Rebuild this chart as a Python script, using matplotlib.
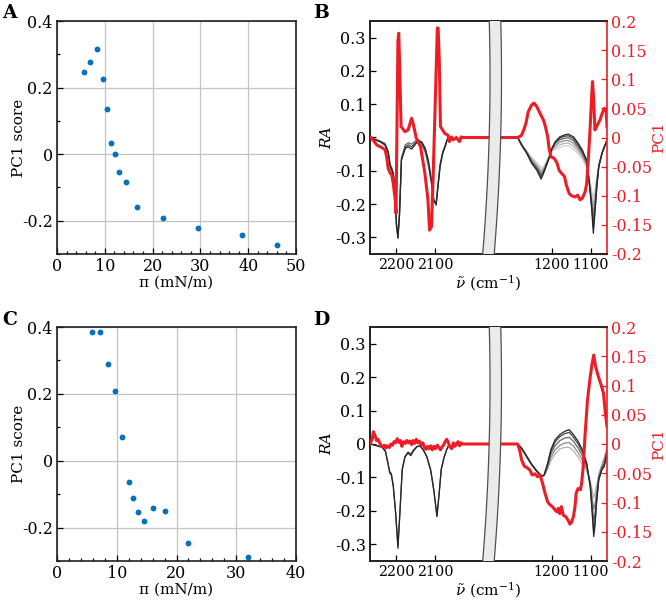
import numpy as np
import matplotlib
matplotlib.use('Agg')
import matplotlib.pyplot as plt
from matplotlib.patches import Polygon

plt.rcParams['font.family'] = 'DejaVu Serif'
plt.rcParams['mathtext.fontset'] = 'dejavuserif'
plt.rcParams['axes.unicode_minus'] = False
plt.rcParams['font.size'] = 11.5

#%% data - PC1 scores vs surface pressure
piA = [5.65, 6.97, 8.43, 9.55, 10.4, 11.2, 12.1, 12.97, 14.4, 16.7, 22.2, 29.4, 38.6, 46.1]
scoreA = [0.248, 0.278, 0.315, 0.226, 0.135, 0.033, 0.0, -0.054, -0.083, -0.159, -0.192, -0.223, -0.243, -0.272]

piC = [5.91, 7.2, 8.59, 9.71, 10.8, 12.1, 12.7, 13.5, 14.6, 16.0, 18.1, 22.0, 31.9]
scoreC = [0.384, 0.384, 0.29, 0.21, 0.072, -0.064, -0.112, -0.152, -0.179, -0.140, -0.151, -0.245, -0.288]

#%% data - spectra panel B
wB_left = [2267, 2241, 2228, 2220, 2215, 2211, 2207, 2202, 2199, 2195, 2191, 2186, 2176, 2168, 2160,
           2152, 2143, 2134, 2125, 2117, 2109, 2103, 2097, 2094, 2087, 2080, 2074, 2069, 2066]
raB_left = [
    [0, -0.010, -0.018, -0.040, -0.080, -0.090, -0.105, -0.160, -0.255, -0.295, -0.225, -0.060, -0.022, -0.016, -0.020,
     -0.012, -0.006, -0.020, -0.045, -0.085, -0.140, -0.190, -0.195, -0.160, -0.080, -0.042, -0.024, -0.006, 0],
    [0, -0.012, -0.021, -0.044, -0.085, -0.095, -0.110, -0.165, -0.260, -0.300, -0.230, -0.065, -0.028, -0.022, -0.028,
     -0.018, -0.008, -0.016, -0.038, -0.075, -0.135, -0.190, -0.200, -0.165, -0.085, -0.045, -0.026, -0.007, 0],
    [0, -0.013, -0.023, -0.047, -0.088, -0.098, -0.113, -0.167, -0.263, -0.303, -0.233, -0.068, -0.032, -0.028, -0.035,
     -0.023, -0.010, -0.013, -0.032, -0.068, -0.128, -0.188, -0.203, -0.168, -0.088, -0.047, -0.028, -0.008, 0],
]
wB_right = [1288, 1278, 1265, 1252, 1239, 1228, 1220, 1209, 1200, 1192, 1180, 1167, 1158, 1145, 1133, 1122,
            1111, 1105, 1098, 1094, 1090, 1085, 1080, 1072, 1066, 1059]
raB_right = [
    [0, -0.020, -0.040, -0.060, -0.075, -0.090, -0.085, -0.060, -0.040, -0.035, -0.030, -0.025, -0.025, -0.035, -0.050,
     -0.065, -0.090, -0.120, -0.160, -0.180, -0.160, -0.120, -0.080, -0.050, -0.030, -0.010],
    [0, -0.020, -0.042, -0.064, -0.080, -0.098, -0.090, -0.062, -0.038, -0.030, -0.022, -0.017, -0.017, -0.026, -0.042,
     -0.059, -0.085, -0.123, -0.175, -0.205, -0.175, -0.125, -0.082, -0.050, -0.030, -0.010],
    [0, -0.021, -0.043, -0.068, -0.086, -0.105, -0.094, -0.063, -0.036, -0.024, -0.014, -0.009, -0.009, -0.017, -0.034,
     -0.053, -0.080, -0.126, -0.190, -0.230, -0.190, -0.130, -0.084, -0.049, -0.029, -0.009],
    [0, -0.021, -0.044, -0.072, -0.090, -0.112, -0.097, -0.064, -0.034, -0.018, -0.007, -0.002, -0.001, -0.009, -0.028,
     -0.047, -0.076, -0.128, -0.200, -0.250, -0.205, -0.138, -0.086, -0.048, -0.029, -0.009],
    [0, -0.022, -0.046, -0.075, -0.094, -0.118, -0.100, -0.066, -0.033, -0.015, -0.002, 0.004, 0.005, -0.003, -0.022,
     -0.042, -0.072, -0.130, -0.210, -0.270, -0.220, -0.145, -0.088, -0.048, -0.028, -0.008],
    [0, -0.023, -0.047, -0.078, -0.098, -0.125, -0.103, -0.068, -0.032, -0.013, 0.002, 0.008, 0.010, 0.002, -0.017,
     -0.038, -0.068, -0.128, -0.218, -0.288, -0.228, -0.148, -0.088, -0.047, -0.028, -0.008],
]
pcB_left_w = [2267, 2265, 2249, 2237, 2228, 2224, 2220, 2215, 2211, 2207, 2202, 2200, 2195, 2193, 2191, 2187,
              2177, 2169, 2160, 2156, 2148, 2137, 2126, 2118, 2114, 2109, 2105, 2094, 2092, 2089, 2086,
              2075, 2067, 2063, 2058, 2053, 2045, 2037, 2033, 2029, 1951]
pcB_left = [0, 0.001, -0.013, -0.017, -0.021, -0.033, -0.053, -0.061, -0.064, -0.079, -0.107, -0.130, 0.167, 0.179,
            0.133, 0.019, 0.010, 0.013, 0.033, 0.024, -0.001, -0.016, -0.061, -0.107, -0.159, -0.153, -0.073,
            0.188, 0.188, 0.133, 0.019, 0.007, 0.004, -0.007, 0.001, -0.004, 0, -0.007, 0.001, 0, 0]
pcB_right_w = [1351, 1288, 1279, 1274, 1267, 1261, 1252, 1246, 1239, 1231, 1222, 1217, 1211, 1208, 1203, 1194,
               1187, 1182, 1176, 1168, 1163, 1156, 1150, 1141, 1134, 1128, 1122, 1115, 1111, 1107, 1102,
               1098, 1096, 1093, 1090, 1084, 1077, 1071, 1066, 1061, 1059]
pcB_right = [0, 0, 0.003, 0.010, 0.024, 0.044, 0.056, 0.059, 0.053, 0.042, 0.030, 0.019, 0.001, -0.016, -0.033,
             -0.036, -0.044, -0.056, -0.061, -0.067, -0.082, -0.096, -0.100, -0.102, -0.099, -0.107, -0.104,
             -0.093, -0.079, -0.039, 0.019, 0.076, 0.096, 0.064, 0.013, 0.021, 0.030, 0.042, 0.050, 0.047, 0.019]

#%% data - spectra panel D
wD_left = [2265, 2248, 2235, 2227, 2221, 2216, 2212, 2207, 2201, 2195, 2190, 2184, 2177, 2169, 2162, 2156,
           2147, 2139, 2130, 2121, 2111, 2103, 2095, 2090, 2084, 2077, 2070, 2064]
raD_left = [
    [0, -0.005, -0.009, -0.021, -0.054, -0.083, -0.088, -0.123, -0.203, -0.305, -0.203, -0.075, -0.037, -0.024, -0.030,
     -0.019, -0.008, -0.005, -0.018, -0.039, -0.080, -0.140, -0.215, -0.155, -0.075, -0.040, -0.016, -0.002],
    [0, -0.006, -0.010, -0.023, -0.057, -0.087, -0.092, -0.127, -0.207, -0.312, -0.207, -0.077, -0.039, -0.027, -0.035,
     -0.022, -0.009, -0.005, -0.017, -0.037, -0.077, -0.137, -0.217, -0.157, -0.077, -0.042, -0.017, -0.002],
]
wD_right = [1288, 1278, 1265, 1252, 1239, 1226, 1220, 1211, 1203, 1192, 1180, 1167, 1156, 1145, 1133, 1122,
            1111, 1102, 1097, 1093, 1090, 1085, 1080, 1072, 1066, 1059]
raD_right = [
    [0, -0.012, -0.035, -0.060, -0.080, -0.095, -0.095, -0.075, -0.050, -0.030, -0.015, -0.010, -0.010, -0.020, -0.040,
     -0.060, -0.080, -0.110, -0.140, -0.160, -0.150, -0.120, -0.090, -0.060, -0.040, -0.010],
    [0, -0.012, -0.036, -0.060, -0.080, -0.096, -0.094, -0.070, -0.040, -0.018, -0.004, 0.003, 0.004, -0.006, -0.026,
     -0.048, -0.074, -0.115, -0.160, -0.195, -0.180, -0.135, -0.095, -0.065, -0.048, -0.015],
    [0, -0.013, -0.037, -0.061, -0.081, -0.096, -0.093, -0.065, -0.030, -0.005, 0.010, 0.018, 0.020, 0.008, -0.012,
     -0.035, -0.066, -0.120, -0.180, -0.230, -0.210, -0.150, -0.100, -0.070, -0.058, -0.020],
    [0, -0.013, -0.038, -0.062, -0.082, -0.097, -0.092, -0.060, -0.022, 0.006, 0.022, 0.031, 0.035, 0.020, 0.000,
     -0.025, -0.060, -0.125, -0.195, -0.260, -0.235, -0.160, -0.105, -0.075, -0.064, -0.025],
    [0, -0.013, -0.038, -0.062, -0.082, -0.097, -0.092, -0.057, -0.017, 0.013, 0.028, 0.038, 0.043, 0.028, 0.008,
     -0.017, -0.057, -0.127, -0.207, -0.277, -0.247, -0.167, -0.107, -0.077, -0.067, -0.027],
]
pcD_left_w = [2267, 2261, 2258, 2254, 2250, 2246, 2242, 2238, 2234, 2230, 2226, 2222, 2217, 2213, 2209, 2205,
              2201, 2197, 2193, 2189, 2185, 2181, 2176, 2172, 2168, 2164, 2160, 2156, 2152, 2148, 2144,
              2140, 2135, 2131, 2127, 2123, 2119, 2115, 2111, 2107, 2103, 2099, 2094, 2090, 2086, 2082,
              2078, 2074, 2070, 2066, 2062, 2057, 2053, 2049, 2045, 2041, 2037, 2033, 2029, 1951]
pcD_left = [0, 0.008, 0.021, 0.015, 0.006, 0.008, 0.002, -0.003, -0.005, -0.002, -0.007, -0.003, -0.006, 0.000,
            -0.002, 0.004, 0.002, 0.009, 0.003, 0.006, -0.004, 0.004, 0.001, 0.006, 0.002, 0.005, -0.001,
            0.006, 0.001, 0.008, 0.002, 0.005, -0.002, 0.002, -0.006, -0.009, -0.004, -0.008, -0.003,
            -0.010, -0.004, -0.008, -0.002, -0.006, -0.010, -0.005, -0.002, 0.004, 0.008, 0.003, -0.005,
            -0.008, 0.002, -0.004, 0.000, 0.004, -0.003, 0.002, 0, 0]
pcD_right_w = [1351, 1288, 1282, 1278, 1271, 1265, 1256, 1251, 1243, 1237, 1231, 1225, 1218, 1211, 1205, 1199,
               1192, 1187, 1184, 1180, 1176, 1171, 1165, 1159, 1154, 1150, 1145, 1141, 1138, 1133, 1127,
               1124, 1120, 1115, 1109, 1102, 1097, 1093, 1088, 1081, 1074, 1068, 1064, 1059]
pcD_right = [0, 0, -0.013, -0.027, -0.038, -0.040, -0.045, -0.053, -0.051, -0.056, -0.053, -0.065, -0.084, -0.099,
             -0.104, -0.107, -0.113, -0.116, -0.110, -0.119, -0.107, -0.122, -0.124, -0.130, -0.137, -0.134,
             -0.124, -0.107, -0.084, -0.076, -0.078, -0.067, -0.039, 0.018, 0.075, 0.115, 0.138, 0.152,
             0.132, 0.115, 0.101, 0.087, 0.058, 0.030]

gray_shades = ['#d2d2d2', '#b4b4b4', '#8c8c8c', '#666666', '#444444', '#262626']
red = '#ee1c25'
blue = '#0072bd'
lab_size = 11


def xpos(w):
    # broken wavenumber axis: two segments glued together
    w = np.asarray(w, float)
    return np.where(w > 1600, 26 + (2200 - w) * 0.39, 182 + (1200 - w) * 0.39)


def scatter_panel(ax, x, y, xmax):
    ax.plot(x, y, 'o', color=blue, ms=4.2, mec='none', zorder=3)
    ax.set_xlim(0, xmax)
    ax.set_ylim(-0.3, 0.4)
    ax.set_xticks(np.arange(0, xmax + 1, 10))
    ax.set_xticks(np.arange(0, xmax + 1, 2), minor=True)
    ax.set_yticks([-0.2, 0, 0.2, 0.4])
    ax.set_yticklabels(['-0.2', '0', '0.2', '0.4'])
    ax.set_yticks([-0.3, -0.1, 0.1, 0.3], minor=True)
    ax.grid(True, which='major', color='#c4c4c4', lw=0.9)
    ax.tick_params(which='both', direction='in', top=False, right=False, pad=3)
    ax.tick_params(which='major', length=4, width=0.9)
    ax.tick_params(which='minor', length=2.5, width=0.9)
    for s in ax.spines.values():
        s.set_linewidth(1.2)
        s.set_color('#202020')
    ax.set_xlabel('π (mN/m)', fontsize=lab_size, va='center')
    ax.set_ylabel('PC1 score', fontsize=lab_size, va='center')
    ax.xaxis.set_label_coords(0.5, -0.124)
    ax.yaxis.set_label_coords(-0.159, 0.5)


def spectrum_panel(ax, wl, left, wr, right, pw_l, pc_l, pw_r, pc_r):
    n = len(left)
    for i, c in enumerate(left):
        ax.plot(xpos(wl), c, color=gray_shades[len(gray_shades) - n + i], lw=0.9)
    for i, c in enumerate(right):
        ax.plot(xpos(wr), c, color=gray_shades[len(gray_shades) - len(right) + i], lw=0.9)
    ax.set_xlim(0, 237)
    ax.set_ylim(-0.35, 0.35)
    ax.set_yticks(np.arange(-0.3, 0.31, 0.1))
    ax.set_yticklabels(['-0.3', '-0.2', '-0.1', '0', '0.1', '0.2', '0.3'])
    ax.set_xticks(xpos([2200, 2100, 1200, 1100]))
    ax.set_xticklabels(['2200', '2100', '1200', '1100'], fontsize=10.3)
    ax.tick_params(direction='in', length=4, width=0.9, top=False, right=False, pad=3)
    ax.spines['right'].set_visible(False)
    for s in ['left', 'top', 'bottom']:
        ax.spines[s].set_linewidth(1.2)
        ax.spines[s].set_color('#202020')
    ax.set_xlabel(r'$\tilde{\nu}$ (cm$^{-1}$)', fontsize=lab_size, va='center')
    ax.set_ylabel('RA', fontstyle='italic', fontsize=lab_size, va='center')
    ax.xaxis.set_label_coords(0.5, -0.124)
    ax.yaxis.set_label_coords(-0.181, 0.5)

    ax2 = ax.twinx()
    ax2.plot(xpos(pw_l), pc_l, color=red, lw=2.2, zorder=3)
    ax2.plot(xpos(pw_r), pc_r, color=red, lw=2.2, zorder=3)
    ax2.set_ylim(-0.2, 0.2)
    ax2.set_yticks(np.arange(-0.2, 0.201, 0.05))
    ax2.set_yticklabels(['-0.2', '-0.15', '-0.1', '-0.05', '0', '0.05', '0.1', '0.15', '0.2'])
    ax2.tick_params(direction='in', length=4, width=0.9, colors=red, pad=3)
    ax2.spines['right'].set_color(red)
    ax2.spines['right'].set_linewidth(1.2)
    for s in ['left', 'top', 'bottom']:
        ax2.spines[s].set_linewidth(1.2)
        ax2.spines[s].set_color('#202020')
    ax2.set_ylabel('PC1', color=red, fontsize=lab_size, va='center')
    ax2.yaxis.set_label_coords(1.222, 0.5)

    # axis break band
    t = np.linspace(0, 1, 60)
    off = 2.3 - 7.3 * ((t - 0.76) / 0.76) ** 2
    xl = (117.7 + off) / 237
    xr = xl + 11.5 / 237
    band = Polygon(np.column_stack([np.r_[xl, xr[::-1]], np.r_[t, t[::-1]]]),
                   closed=True, facecolor='#ebebeb', edgecolor='none',
                   transform=ax2.transAxes, clip_on=False, zorder=10)
    ax2.add_patch(band)
    ax2.plot(xl, t, color='#505050', lw=0.9, transform=ax2.transAxes, clip_on=False, zorder=11)
    ax2.plot(xr, t, color='#505050', lw=0.9, transform=ax2.transAxes, clip_on=False, zorder=11)


fig = plt.figure(figsize=(6.66, 6.05), dpi=100)
axA = fig.add_axes([57 / 666, 1 - 254 / 605, 239 / 666, 233 / 605])
axB = fig.add_axes([370 / 666, 1 - 254 / 605, 237 / 666, 233 / 605])
axC = fig.add_axes([57 / 666, 1 - 561 / 605, 239 / 666, 234 / 605])
axD = fig.add_axes([370 / 666, 1 - 561 / 605, 237 / 666, 234 / 605])

scatter_panel(axA, piA, scoreA, 50)
scatter_panel(axC, piC, scoreC, 40)
spectrum_panel(axB, wB_left, raB_left, wB_right, raB_right, pcB_left_w, pcB_left, pcB_right_w, pcB_right)
spectrum_panel(axD, wD_left, raD_left, wD_right, raD_right, pcD_left_w, pcD_left, pcD_right_w, pcD_right)

for lab, x, y in [('A', 2, 18), ('B', 313, 18), ('C', 2, 325), ('D', 313, 325)]:
    fig.text(x / 666, 1 - y / 605, lab, fontsize=13.5, fontweight='bold', ha='left', va='baseline')

fig.savefig('out.png', dpi=100)
